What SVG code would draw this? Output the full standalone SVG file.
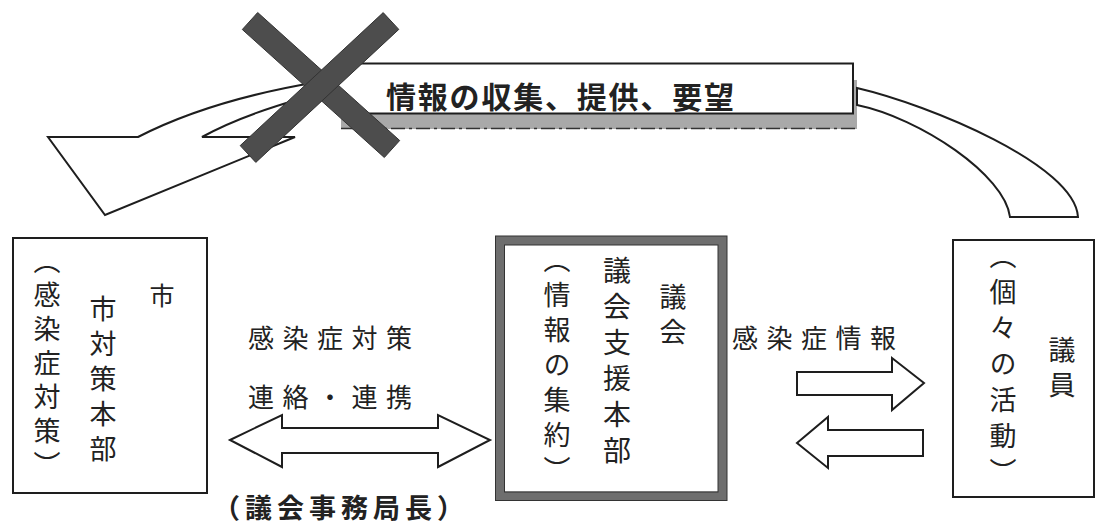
<svg xmlns="http://www.w3.org/2000/svg" width="1104" height="526" viewBox="0 0 1104 526">
<style>
.ln{fill:#fff;stroke:#1e1e1e;stroke-width:2;stroke-linejoin:miter}
.t{font-family:"Noto Sans CJK JP","Noto Sans CJK SC",sans-serif;fill:#222}
.v{writing-mode:vertical-rl;font-size:27px;letter-spacing:8px}
.h{font-size:26px;letter-spacing:8.5px}
.b{font-weight:bold}
</style>
<rect width="1104" height="526" fill="#fff"/>

<g id="banner">
  <rect x="341" y="113" width="516" height="16" fill="#a9a9a9"/>
  <rect x="850" y="80" width="7" height="40" fill="#a9a9a9"/>
  <rect x="330" y="63.5" width="523" height="50" fill="#fff"/>
  <path d="M330 63.5H853V113.5H341" fill="none" stroke="#1e1e1e" stroke-width="2"/>
  <line x1="341" y1="128.5" x2="857" y2="128.5" stroke="#333" stroke-width="1.5" stroke-dasharray="14 4 3 4"/>
  <text class="t b" x="386" y="108" font-size="30" letter-spacing="1.8">情報の収集、提供、要望</text>
</g>

<g id="connectors">
  <path id="arrow-left-curve" class="ln" d="M138 137H48L105 215L295 137H202Q240 116 300 99L318 82Q210 100 138 137Z"/>
  <path id="band-right-curve" class="ln" d="M857 88C930 105 1075 165 1078 217H1010C1005 175 920 118 857 105Z"/>
  <path id="arrow-double" class="ln" d="M230 440L282 415V428H438V415L490 440L438 467V453H282V467Z"/>
  <path id="arrow-to-member" class="ln" d="M797 372H892V358L924 383L892 410V395H797Z"/>
  <path id="arrow-to-council" class="ln" d="M797 443L828 417V430H923V456H828V468Z"/>
  <text class="t h" x="248" y="348">感染症対策</text>
  <text class="t h" x="248" y="407">連絡・連携</text>
  <text class="t h" x="732" y="348">感染症情報</text>
  <text class="t b" x="213" y="518" font-size="27" letter-spacing="5" fill="#3a3a3a">（議会事務局長）</text>
</g>

<g id="cross">
  <polygon points="257.7,12.5 242.3,29.5 384.3,157.5 399.7,140.5" fill="#4d4d4d" stroke="#333" stroke-width="1"/>
  <polygon points="383.2,12.6 398.8,29.4 255.8,162.4 240.2,145.6" fill="#4d4d4d" stroke="#333" stroke-width="1"/>
</g>

<g id="node-city">
  <rect class="ln" x="13" y="238" width="194" height="255"/>
  <text class="t" x="162" y="305" font-size="25" text-anchor="middle">市</text>
  <text class="t v" x="103" y="295">市対策本部</text>
  <text class="t v" x="47" y="247" style="letter-spacing:7px">（感染症対策）</text>
</g>

<g id="node-council">
  <rect x="500" y="240.5" width="222.5" height="255.5" fill="#fff" stroke="#6e6e6e" stroke-width="9"/>
  <rect x="495.5" y="236" width="231.5" height="264.5" fill="none" stroke="#333" stroke-width="1"/>
  <rect x="504.5" y="245" width="213.5" height="247" fill="none" stroke="#333" stroke-width="1"/>
  <text class="t v" x="673" y="283">議会</text>
  <text class="t v" x="617" y="256" style="font-size:28px">議会支援本部</text>
  <text class="t v" x="557" y="246">（情報の集約）</text>
</g>

<g id="node-member">
  <rect class="ln" x="953" y="240" width="141" height="257"/>
  <text class="t v" x="1003" y="242" style="letter-spacing:9px">（個々の活動）</text>
  <text class="t v" x="1062" y="336">議員</text>
</g>
</svg>
